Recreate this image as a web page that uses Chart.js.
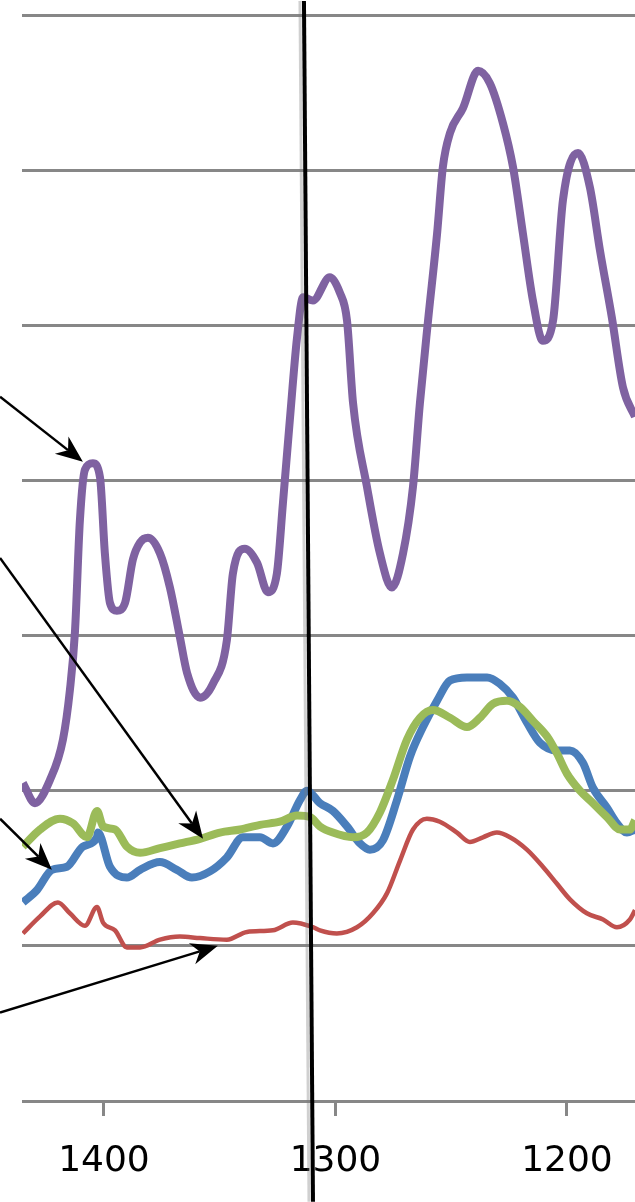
<!DOCTYPE html>
<html>
<head>
<meta charset="utf-8">
<script src="https://cdn.jsdelivr.net/npm/chart.js@4"></script>
<style>
  html, body { margin: 0; padding: 0; background: #fff; }
  canvas { display: block; }
</style>
</head>
<body>
<canvas id="chart" width="635" height="1202"></canvas>
<script>
// x軸の目盛り（波数、右へ行くほど小さい）
const xTicks = [1200, 1300, 1400];

// 紫
const purpleX = [1435.0, 1429.8, 1423.3, 1417.7, 1414.7, 1412.5, 1410.4, 1408.2, 1404.8, 1401.7,
  1399.6, 1397.4, 1394.4, 1390.9, 1387.5, 1384.4, 1381.0, 1375.8, 1371.5, 1367.2,
  1364.1, 1358.5, 1352.9, 1346.9, 1344.3, 1339.1, 1333.9, 1329.2, 1325.3, 1322.7,
  1319.7, 1316.6, 1314.0, 1309.7, 1302.4, 1298.1, 1295.0, 1292.4, 1286.4, 1280.8,
  1275.6, 1270.8, 1266.5, 1263.5, 1260.0, 1256.1, 1253.6, 1250.5, 1244.9, 1238.4,
  1233.3, 1227.6, 1223.3, 1219.0, 1214.7, 1210.4, 1206.0, 1201.7, 1195.2, 1190.1,
  1185.7, 1180.6, 1175.8, 1170.6];
const purpleY = [2.05, 1.92, 2.07, 2.33, 2.65, 3.03, 3.74, 4.07, 4.11, 4.02,
  3.53, 3.21, 3.16, 3.21, 3.49, 3.60, 3.63, 3.53, 3.31, 2.99,
  2.76, 2.60, 2.69, 2.97, 3.40, 3.56, 3.47, 3.28, 3.40, 3.85,
  4.39, 4.92, 5.18, 5.16, 5.31, 5.21, 5.03, 4.50, 3.96, 3.53,
  3.31, 3.53, 3.96, 4.50, 5.03, 5.59, 6.02, 6.24, 6.40, 6.64,
  6.56, 6.30, 6.02, 5.59, 5.16, 4.90, 5.03, 5.81, 6.11, 5.89,
  5.48, 5.05, 4.60, 4.41];

// 青
const blueX = [1435.0, 1428.9, 1422.5, 1416.0, 1409.1, 1403.0, 1402.6, 1397.4, 1390.1, 1384.4,
  1375.8, 1368.5, 1362.0, 1354.2, 1346.9, 1340.0, 1332.6, 1327.0, 1320.9, 1315.3,
  1312.3, 1306.7, 1301.1, 1295.0, 1289.4, 1285.1, 1279.5, 1273.4, 1267.8, 1262.2,
  1256.1, 1250.5, 1243.2, 1234.5, 1229.1, 1223.3, 1217.3, 1211.7, 1204.3, 1198.7,
  1193.1, 1188.8, 1182.7, 1178.4, 1174.1, 1170.6];
const blueY = [1.28, 1.36, 1.49, 1.51, 1.64, 1.70, 1.73, 1.51, 1.44, 1.49,
  1.54, 1.49, 1.44, 1.48, 1.57, 1.70, 1.70, 1.66, 1.77, 1.94,
  2.00, 1.92, 1.87, 1.77, 1.66, 1.62, 1.68, 1.94, 2.22, 2.41,
  2.58, 2.71, 2.73, 2.73, 2.69, 2.60, 2.44, 2.31, 2.26, 2.26,
  2.18, 2.02, 1.89, 1.79, 1.73, 1.75];

// 緑
const greenX = [1435.0, 1427.6, 1419.0, 1413.4, 1407.3, 1403.0, 1400.4, 1395.2, 1390.1, 1384.4,
  1375.8, 1367.2, 1358.5, 1349.9, 1341.2, 1332.6, 1324.0, 1316.6, 1311.0, 1306.7,
  1301.1, 1292.4, 1286.4, 1280.8, 1275.2, 1269.1, 1263.5, 1257.9, 1250.5, 1243.2,
  1237.6, 1232.0, 1225.9, 1220.3, 1214.7, 1208.6, 1204.3, 1200.0, 1194.4, 1188.8,
  1182.7, 1177.1, 1172.8, 1170.6];
const greenY = [1.64, 1.75, 1.82, 1.79, 1.70, 1.87, 1.77, 1.75, 1.64, 1.60,
  1.63, 1.66, 1.69, 1.73, 1.75, 1.78, 1.80, 1.84, 1.83, 1.77,
  1.73, 1.70, 1.73, 1.86, 2.07, 2.33, 2.47, 2.52, 2.47, 2.41,
  2.47, 2.56, 2.58, 2.54, 2.45, 2.35, 2.24, 2.11, 2.00, 1.92,
  1.83, 1.75, 1.75, 1.81];

// 赤
const redX = [1435.0, 1427.6, 1419.9, 1414.7, 1408.2, 1403.0, 1400.4, 1395.2, 1390.1, 1384.4,
  1375.8, 1367.2, 1358.5, 1346.9, 1338.2, 1327.0, 1318.4, 1309.7, 1306.7, 1299.4,
  1290.7, 1283.8, 1277.7, 1272.1, 1266.5, 1260.5, 1254.9, 1247.5, 1241.9, 1236.3,
  1230.3, 1224.6, 1217.3, 1210.4, 1204.3, 1198.7, 1191.4, 1184.4, 1178.4, 1172.8,
  1170.6];
const redY = [1.08, 1.19, 1.28, 1.21, 1.13, 1.25, 1.15, 1.10, 0.99, 0.99,
  1.04, 1.06, 1.05, 1.04, 1.09, 1.10, 1.15, 1.12, 1.10, 1.08,
  1.12, 1.21, 1.34, 1.55, 1.75, 1.82, 1.80, 1.73, 1.67, 1.70,
  1.73, 1.70, 1.62, 1.51, 1.40, 1.30, 1.21, 1.17, 1.12, 1.17,
  1.23];

// 矢印（始点→先端、データ座標）
const arrowFromX = [1444.9, 1444.9, 1444.9, 1444.9];
const arrowFromY = [4.54, 3.50, 1.82, 0.57];
const arrowToX = [1409.1, 1357.2, 1422.5, 1350.8];
const arrowToY = [4.12, 1.69, 1.49, 1.00];

// 縦の黒線（上端→下端）
const markerX = [1313.6, 1309.7];
const markerY = [7.09, -0.65];

const toPoints = (xs, ys) => xs.map((x, i) => ({ x, y: ys[i] }));

const overlay = {
  id: "overlay",
  afterDraw(chart) {
    const { ctx, scales } = chart;
    const x = scales.x, y = scales.y;
    ctx.save();

    // 縦線（薄いグレーの影＋黒線）
    ctx.lineCap = "butt";
    ctx.strokeStyle = "rgba(120,120,120,0.35)";
    ctx.lineWidth = 3;
    ctx.beginPath();
    ctx.moveTo(x.getPixelForValue(markerX[0]) - 4, y.getPixelForValue(markerY[0]));
    ctx.lineTo(x.getPixelForValue(markerX[1]) - 4, y.getPixelForValue(markerY[1]));
    ctx.stroke();

    ctx.strokeStyle = "#000";
    ctx.lineWidth = 4;
    ctx.beginPath();
    ctx.moveTo(x.getPixelForValue(markerX[0]), y.getPixelForValue(markerY[0]));
    ctx.lineTo(x.getPixelForValue(markerX[1]), y.getPixelForValue(markerY[1]));
    ctx.stroke();

    // 矢印
    ctx.lineWidth = 2.5;
    ctx.fillStyle = "#000";
    arrowFromX.forEach((fx, i) => {
      const x0 = x.getPixelForValue(fx), y0 = y.getPixelForValue(arrowFromY[i]);
      const x1 = x.getPixelForValue(arrowToX[i]), y1 = y.getPixelForValue(arrowToY[i]);
      const a = Math.atan2(y1 - y0, x1 - x0);
      const L = 27, W = 11;
      ctx.beginPath();
      ctx.moveTo(x0, y0);
      ctx.lineTo(x1 - Math.cos(a) * L * 0.7, y1 - Math.sin(a) * L * 0.7);
      ctx.stroke();

      ctx.save();
      ctx.translate(x1, y1);
      ctx.rotate(a);
      ctx.beginPath();
      ctx.moveTo(0, 0);
      ctx.lineTo(-L, W);
      ctx.lineTo(-L * 0.7, 0);
      ctx.lineTo(-L, -W);
      ctx.closePath();
      ctx.fill();
      ctx.restore();
    });

    ctx.restore();
  },
};

const lineStyle = (color, width) => ({
  borderColor: color,
  backgroundColor: color,
  borderWidth: width,
  pointRadius: 0,
  cubicInterpolationMode: "monotone",
  fill: false,
});

new Chart(document.getElementById("chart"), {
  type: "line",
  data: {
    datasets: [
      { label: "green", data: toPoints(greenX, greenY), ...lineStyle("#9BBB59", 8) },
      { label: "blue", data: toPoints(blueX, blueY), ...lineStyle("#4A7EBB", 8) },
      { label: "purple", data: toPoints(purpleX, purpleY), ...lineStyle("#7F62A1", 8) },
      { label: "red", data: toPoints(redX, redY), ...lineStyle("#C0504D", 4.5) },
    ],
  },
  options: {
    responsive: false,
    animation: false,
    layout: { padding: { top: 15, left: 0, right: 0, bottom: 0 } },
    plugins: { legend: { display: false }, tooltip: { enabled: false } },
    scales: {
      x: {
        type: "linear",
        reverse: true,
        min: 1170.6,
        max: 1435.4,
        afterBuildTicks: (axis) => {
          axis.ticks = xTicks.map((v) => ({ value: v }));
        },
        afterFit: (axis) => {
          axis.height = 101;
        },
        grid: {
          drawOnChartArea: false,
          drawTicks: true,
          tickLength: 15,
          tickWidth: 3,
          tickColor: "#878787",
        },
        border: { display: false },
        ticks: {
          padding: 24,
          color: "#000",
          font: { family: "DejaVu Sans", size: 36 },
          maxRotation: 0,
          autoSkip: false,
          callback: (v) => String(v),
        },
      },
      y: {
        min: 0,
        max: 7,
        afterFit: (axis) => {
          axis.width = 22;
        },
        ticks: { display: false, stepSize: 1 },
        grid: { color: "#878787", lineWidth: 3, drawTicks: false },
        border: { display: false },
      },
    },
  },
  plugins: [overlay],
});
</script>
</body>
</html>
